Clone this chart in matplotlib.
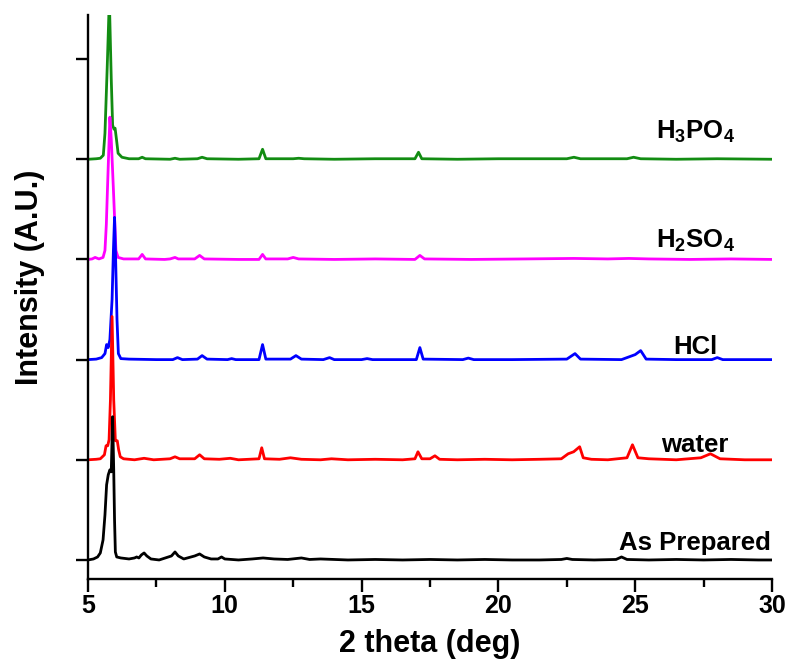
import matplotlib
matplotlib.use("Agg")
import matplotlib.pyplot as plt
from matplotlib.ticker import MultipleLocator

plt.rcParams['font.family'] = ['Liberation Sans', 'DejaVu Sans']
plt.rcParams['mathtext.fontset'] = 'custom'
plt.rcParams['mathtext.rm'] = 'Liberation Sans:bold'
plt.rcParams['mathtext.bf'] = 'Liberation Sans:bold'
plt.rcParams['mathtext.it'] = 'Liberation Sans:bold'

# ---------------- data (relative intensity) ----------------
labels = ['H$_3$PO$_4$', 'H$_2$SO$_4$', 'HCl', 'water', 'As Prepared']
offsets = [4, 3, 2, 1, 0]
colors = ['#128c12', '#ff00ff', '#0000ff', '#ff0000', '#000000']
label_dy = [0.20, 0.12, 0.06, 0.08, 0.10]

h3po4_x = [5.0, 5.3, 5.45, 5.56, 5.62, 5.7, 5.78, 5.85, 5.9, 5.95, 5.99, 6.04, 6.1, 6.24, 6.5,
           6.85, 6.98, 7.1, 8.0, 8.18, 8.35, 9.0, 9.17, 9.35, 10.5, 11.25, 11.38, 11.5, 12.5,
           12.7, 12.9, 14.0, 15.5, 16.95, 17.08, 17.2, 18.5, 20.0, 22.5, 22.76, 23.0, 24.7,
           24.94, 25.2, 26.5, 28.0, 30.0]
h3po4_y = [0.0, 0.005, 0.01, 0.04, 0.26, 0.9, 1.6, 0.8, 0.34, 0.3, 0.31, 0.2, 0.06, 0.02, 0.005,
           0.005, 0.02, 0.005, 0.0, 0.01, 0.0, 0.005, 0.02, 0.005, 0.0, 0.005, 0.1, 0.005, 0.005,
           0.01, 0.005, 0.0, 0.005, 0.005, 0.07, 0.005, 0.0, 0.005, 0.005, 0.02, 0.005, 0.005,
           0.02, 0.005, 0.0, 0.005, 0.0]

h2so4_x = [5.0, 5.15, 5.26, 5.4, 5.55, 5.62, 5.67, 5.71, 5.76, 5.8, 5.85, 5.93, 6.02, 6.1, 6.3,
           6.85, 6.98, 7.1, 7.8, 8.0, 8.18, 8.3, 8.9, 9.08, 9.25, 10.5, 11.25, 11.38, 11.5,
           12.3, 12.5, 12.7, 14.0, 15.5, 16.95, 17.13, 17.3, 19.0, 21.0, 22.76, 24.0, 24.77,
           25.5, 27.0, 28.5, 30.0]
h2so4_y = [0.0, 0.005, 0.02, 0.005, 0.02, 0.09, 0.35, 0.69, 1.1, 1.42, 1.2, 0.69, 0.09, 0.02,
           0.005, 0.005, 0.05, 0.005, 0.0, 0.005, 0.02, 0.005, 0.005, 0.04, 0.005, 0.0, 0.0,
           0.05, 0.005, 0.005, 0.02, 0.005, 0.0, 0.005, 0.0, 0.04, 0.005, 0.0, 0.005, 0.01,
           0.005, 0.01, 0.005, 0.0, 0.005, 0.0]

hcl_x = [5.0, 5.3, 5.5, 5.62, 5.68, 5.74, 5.8, 5.88, 5.93, 5.97, 6.01, 6.06, 6.11, 6.2, 6.5,
         7.5, 8.1, 8.27, 8.45, 9.0, 9.17, 9.35, 10.1, 10.25, 10.4, 11.25, 11.38, 11.5, 12.4,
         12.6, 12.8, 13.6, 13.83, 14.0, 15.0, 15.2, 15.4, 16.5, 17.0, 17.13, 17.25, 18.7, 18.9,
         19.1, 20.5, 22.5, 22.8, 23.0, 24.5, 24.8, 25.0, 25.2, 25.4, 26.5, 27.8, 28.0, 28.2, 30.0]
hcl_y = [0.0, 0.005, 0.02, 0.06, 0.15, 0.12, 0.2, 0.6, 1.1, 1.42, 1.0, 0.4, 0.06, 0.01, 0.005,
         0.0, 0.0, 0.02, 0.0, 0.005, 0.04, 0.005, 0.0, 0.01, 0.0, 0.0, 0.15, 0.005, 0.005,
         0.04, 0.005, 0.0, 0.02, 0.0, 0.0, 0.01, 0.0, 0.0, 0.0, 0.12, 0.005, 0.0, 0.015,
         0.0, 0.0, 0.005, 0.06, 0.005, 0.0, 0.03, 0.05, 0.09, 0.005, 0.0, 0.0, 0.02, 0.0, 0.0]

water_x = [5.0, 5.3, 5.45, 5.6, 5.66, 5.72, 5.77, 5.82, 5.88, 5.94, 6.0, 6.07, 6.12, 6.18, 6.3,
           6.7, 7.05, 7.4, 8.0, 8.18, 8.35, 8.9, 9.08, 9.25, 9.8, 10.2, 10.5, 11.25, 11.35,
           11.45, 12.0, 12.4, 12.8, 13.5, 13.9, 14.5, 15.5, 16.5, 16.95, 17.06, 17.2, 17.5,
           17.68, 17.85, 18.5, 19.5, 20.5, 21.5, 22.3, 22.55, 22.75, 22.97, 23.1, 23.4, 24.0,
           24.7, 24.9, 25.1, 25.5, 26.5, 27.4, 27.75, 28.1, 29.0, 30.0]
water_y = [0.0, 0.005, 0.01, 0.05, 0.14, 0.14, 0.2, 0.6, 1.43, 0.6, 0.19, 0.19, 0.1, 0.03, 0.01,
           0.0, 0.015, 0.0, 0.01, 0.03, 0.01, 0.01, 0.05, 0.01, 0.005, 0.015, 0.0, 0.01, 0.12,
           0.01, 0.005, 0.02, 0.005, 0.0, 0.01, 0.0, 0.005, 0.0, 0.01, 0.08, 0.01, 0.01,
           0.04, 0.005, 0.0, 0.005, 0.0, 0.005, 0.01, 0.06, 0.08, 0.13, 0.02, 0.005, 0.0,
           0.02, 0.15, 0.02, 0.01, 0.0, 0.02, 0.06, 0.01, 0.0, 0.0]

prep_x = [5.0, 5.2, 5.35, 5.45, 5.55, 5.62, 5.68, 5.74, 5.8, 5.85, 5.9, 5.94, 5.97, 6.0, 6.05,
          6.2, 6.5, 6.7, 6.78, 6.86, 6.95, 7.05, 7.15, 7.3, 7.6, 8.05, 8.18, 8.3, 8.5, 8.9,
          9.08, 9.25, 9.5, 9.75, 9.88, 10.0, 10.5, 11.0, 11.4, 11.8, 12.3, 12.8, 13.1, 13.5,
          14.5, 15.5, 16.5, 17.5, 18.5, 19.5, 20.5, 21.5, 22.3, 22.5, 22.7, 23.5, 24.3, 24.5,
          24.7, 25.5, 26.5, 27.5, 28.5, 29.5, 30.0]
prep_y = [0.0, 0.01, 0.03, 0.07, 0.2, 0.45, 0.75, 0.85, 0.9, 0.88, 1.43, 0.9, 0.4, 0.08, 0.03,
          0.02, 0.01, 0.02, 0.03, 0.02, 0.05, 0.07, 0.04, 0.01, 0.0, 0.04, 0.08, 0.04, 0.01,
          0.04, 0.06, 0.03, 0.01, 0.01, 0.03, 0.01, 0.0, 0.01, 0.02, 0.01, 0.005, 0.02, 0.005,
          0.01, 0.0, 0.005, 0.0, 0.005, 0.0, 0.005, 0.0, 0.0, 0.005, 0.015, 0.005, 0.0, 0.005,
          0.03, 0.005, 0.0, 0.005, 0.0, 0.005, 0.0, 0.0]

series_x = [h3po4_x, h2so4_x, hcl_x, water_x, prep_x]
series_y = [h3po4_y, h2so4_y, hcl_y, water_y, prep_y]

x_ticks = [5, 10, 15, 20, 25, 30]
x_label = '2 theta (deg)'
y_label = 'Intensity (A.U.)'

# ---------------- figure ----------------
fig = plt.figure(figsize=(7.9, 6.7), dpi=100)
ax = fig.add_axes([88 / 790, 1 - 579 / 670, 684 / 790, 564 / 670])

for xs, ys, off, col in zip(series_x, series_y, offsets, colors):
    assert len(xs) == len(ys)
    ax.plot(xs, [v + off for v in ys], color=col, lw=2.0,
            solid_joinstyle='round', solid_capstyle='round')

for lab, off, dy, in zip(labels, offsets, label_dy):
    ax.text(27.19, off + dy, lab, ha='center', va='baseline',
            fontsize=18.5, fontweight='bold', color='black')

ax.set_xlim(5, 30)
ax.set_ylim(-0.19, 5.44)
ax.set_xticks(x_ticks)
ax.xaxis.set_minor_locator(MultipleLocator(2.5))
ax.set_yticks([0, 1, 2, 3, 4, 5])
ax.set_yticklabels([])

for s in ['top', 'right']:
    ax.spines[s].set_visible(False)
for s in ['left', 'bottom']:
    ax.spines[s].set_linewidth(1.7)

ax.tick_params(axis='both', which='major', direction='out', length=9, width=1.7)
ax.tick_params(axis='x', which='minor', direction='out', length=5.5, width=1.7)
ax.tick_params(axis='x', which='major', labelsize=18, pad=2)
for t in ax.get_xticklabels():
    t.set_fontweight('bold')

ax.set_xlabel(x_label, fontsize=22, fontweight='bold', va='top')
ax.xaxis.set_label_coords(0.5, -0.088)
ax.set_ylabel(y_label, fontsize=22, fontweight='bold')
ax.yaxis.set_label_coords(-0.063, 0.535)

fig.savefig('out.png', dpi=100)
